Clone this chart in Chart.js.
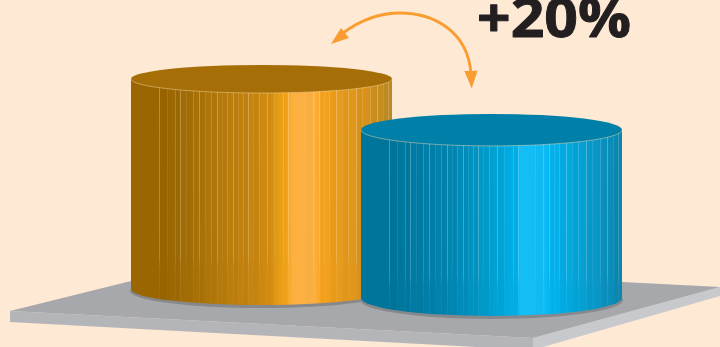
<!DOCTYPE html>
<html>
<head>
<meta charset="utf-8">
<style>
  html, body { margin: 0; padding: 0; background: #fee9d4; }
  canvas { display: block; }
</style>
<script src="https://cdn.jsdelivr.net/npm/chart.js@4/dist/chart.umd.min.js"></script>
</head>
<body>
<canvas id="chart" width="720" height="347"></canvas>
<script>
// dados
const categories = ['Antes', 'Depois'];
const values = [125, 100];
const floors = [34.5, 29.2]; // a base de cada cilindro fica numa altura diferente (perspectiva)
const changeLabel = '+20%';

// aparencia de cada cilindro
const looks = [
  {
    top: '#a66e06', rimTop: 14, rimBottom: 16,
    stops: [[0, '#9a6602'], [0.14, '#9a6602'], [0.34, '#b47a0c'], [0.52, '#cf8a12'], [0.56, '#e29a14'], [0.6, '#f6a51c'],
      [0.62, '#fcb040'], [0.7, '#fdb143'], [0.73, '#f7a41e'], [0.78, '#eb9d1a'], [0.9, '#d8921a'], [1, '#b98a26']]
  },
  {
    top: '#007fa9', rimTop: 16, rimBottom: 18,
    stops: [[0, '#00759b'], [0.13, '#00759b'], [0.35, '#0087b3'], [0.5, '#009fd0'], [0.6, '#00b2ea'], [0.61, '#13bdf6'],
      [0.7, '#13bdf6'], [0.72, '#03b6f0'], [0.8, '#02a9df'], [0.92, '#0a94c3'], [1, '#0c85ad']]
  }
];
// filetes claros verticais, em fracao da largura
const stripes = [.109, .139, .169, .188, .21, .239, .262, .283, .305, .328, .348, .369, .39, .411, .43, .449, .469, .492, .52, .548,
  .584, .603, .667, .698, .72, .739, .76, .784, .807, .833, .861, .884, .916, .941, .967, .986];

// elemento de barra desenhado como cilindro, usa x, y, base e width calculados pelo chart
class CylinderElement extends Chart.BarElement {
  static id = 'cylinderBar';
  draw(ctx) {
    const { x, y, base, width } = this.getProps(['x', 'y', 'base', 'width']);
    const look = looks[this.$context ? this.$context.dataIndex : 0];
    const rx = width / 2;
    const left = x - rx;
    const right = x + rx;

    ctx.save();
    // sombra embaixo
    ctx.fillStyle = '#87888b';
    ctx.beginPath();
    ctx.ellipse(x, base + 2, rx + 1, look.rimBottom + 1, 0, 0, Math.PI * 2);
    ctx.fill();

    // corpo
    const body = new Path2D();
    body.moveTo(left, y);
    body.lineTo(left, base);
    body.ellipse(x, base, rx, look.rimBottom, 0, Math.PI, 0, true);
    body.lineTo(right, y);
    body.closePath();
    const grad = ctx.createLinearGradient(left, 0, right, 0);
    look.stops.forEach(([p, c]) => grad.addColorStop(p, c));
    ctx.fillStyle = grad;
    ctx.fill(body);

    ctx.save();
    ctx.clip(body);
    // faixas alternadas, da o aspecto de degraus no gradiente
    ctx.fillStyle = 'rgba(0,0,0,0.015)';
    stripes.forEach((s, i) => {
      if (i % 2 === 0 && i + 1 < stripes.length) {
        const x0 = Math.round(left + s * width);
        ctx.fillRect(x0, y, Math.round(left + stripes[i + 1] * width) - x0, base - y + look.rimBottom);
      }
    });
    // filetes: alguns mais fortes, e somem perto da base
    stripes.forEach((s, i) => {
      const a = i % 3 === 0 ? 0.28 : i % 3 === 1 ? 0.1 : 0.18;
      const fade = ctx.createLinearGradient(0, y, 0, base + look.rimBottom);
      fade.addColorStop(0, `rgba(255,255,255,${a})`);
      fade.addColorStop(0.78, `rgba(255,255,255,${a * 0.8})`);
      fade.addColorStop(0.84, `rgba(255,255,255,${a * 0.3})`);
      fade.addColorStop(1, `rgba(255,255,255,${a * 0.15})`);
      ctx.fillStyle = fade;
      ctx.fillRect(Math.round(left + s * width), y, 1, base - y + look.rimBottom);
    });
    ctx.restore();

    // tampa
    ctx.fillStyle = look.top;
    ctx.beginPath();
    ctx.ellipse(x, y, rx, look.rimTop, 0, 0, Math.PI * 2);
    ctx.fill();
    ctx.strokeStyle = 'rgba(255,225,170,0.45)';
    ctx.lineWidth = 1;
    ctx.beginPath();
    ctx.ellipse(x, y, rx, look.rimTop, 0, Math.PI, 0, true);
    ctx.stroke();
    ctx.restore();
  }
}

class CylinderController extends Chart.BarController {
  static id = 'cylinder';
  static defaults = { ...Chart.BarController.defaults, dataElementType: 'cylinderBar' };
}

Chart.register(CylinderElement, CylinderController);

function poly(ctx, color, pts) {
  ctx.fillStyle = color;
  ctx.beginPath();
  pts.forEach(([px, py], i) => (i ? ctx.lineTo(px, py) : ctx.moveTo(px, py)));
  ctx.closePath();
  ctx.fill();
}

// chapa cinza embaixo dos cilindros
const platePlugin = {
  id: 'plate',
  beforeDatasetsDraw(chart) {
    const ctx = chart.ctx;
    poly(ctx, '#b4b5b9', [[10, 311], [533, 338], [533, 350], [10, 322]]);
    poly(ctx, '#c7c9cc', [[533, 338], [720, 287], [720, 296], [543, 347], [533, 347]]);
    poly(ctx, '#a7a8ab', [[10, 311], [131, 281], [622, 282], [720, 287], [533, 338]]);
  }
};

// seta dupla e rotulo
const arrowPlugin = {
  id: 'arrow',
  afterDatasetsDraw(chart) {
    const ctx = chart.ctx;
    ctx.save();
    ctx.strokeStyle = '#f99d31';
    ctx.lineWidth = 2.8;
    ctx.beginPath();
    ctx.moveTo(343, 33);
    ctx.bezierCurveTo(362, 19, 382, 13, 400, 13);
    ctx.bezierCurveTo(432, 13, 468, 30, 471, 74);
    ctx.stroke();
    poly(ctx, '#f99d31', [[331, 44], [341, 28], [349, 38]]);
    poly(ctx, '#f99d31', [[471.7, 88.5], [464.3, 71], [477.5, 70.7]]);
    ctx.restore();

    ctx.save();
    ctx.fillStyle = '#231f20';
    ctx.strokeStyle = '#231f20';
    ctx.lineWidth = 0.9;
    ctx.lineJoin = 'round';
    ctx.font = 'bold 53px "Open Sans"';
    ctx.textBaseline = 'alphabetic';
    ctx.textAlign = 'left';
    ctx.translate(477, 37);
    ctx.scale(1.11, 1);
    ctx.fillText(changeLabel, 0, 0);
    ctx.strokeText(changeLabel, 0, 0);
    ctx.restore();
  }
};

new Chart(document.getElementById('chart'), {
  type: 'cylinder',
  data: {
    labels: categories,
    datasets: [{
      data: values.map((v, i) => [floors[i], floors[i] + v]),
      barThickness: 261,
      clip: false,
      backgroundColor: looks.map((l) => l.top)
    }]
  },
  plugins: [platePlugin, arrowPlugin],
  options: {
    responsive: false,
    animation: false,
    layout: { padding: { left: 146.5, right: 113.5, top: 0, bottom: 0 } },
    plugins: { legend: { display: false }, tooltip: { enabled: false } },
    scales: {
      x: { display: false },
      y: { display: false, min: 0, max: 206.5 }
    }
  }
});
</script>
</body>
</html>
